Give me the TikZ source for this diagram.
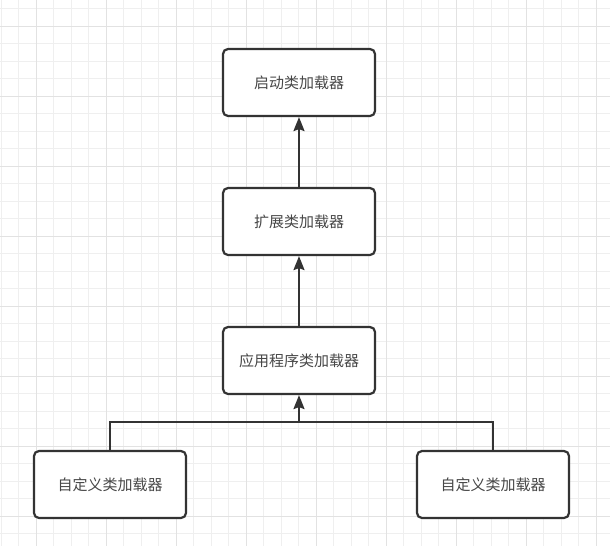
\documentclass[tikz,border=0pt]{standalone}
\usepackage{fontspec}
\newfontfamily\cjk{Noto Sans CJK SC}
\usetikzlibrary{arrows.meta}
\definecolor{minorgrid}{HTML}{EFEFEF}
\definecolor{majorgrid}{HTML}{E2E2E2}
\definecolor{ink}{HTML}{333333}
\tikzset{
  box/.style={draw=ink, line width=2.2pt, rounded corners=5pt, fill=white,
    minimum width=152pt, minimum height=67pt, inner sep=0pt,
    text=ink!90, font=\cjk\fontsize{15}{18}\selectfont},
  conn/.style={draw=ink, line width=2pt},
  arr/.style={conn, -{Stealth[width=11pt,length=14pt,inset=2pt]}},
}
\begin{document}
\begin{tikzpicture}[x=1pt,y=-1pt]
\useasboundingbox (0,0) rectangle (610,546);
\fill[white] (0,0) rectangle (610,546);
% grid
\foreach \i in {0,...,35} \draw[minorgrid, line width=1pt] (1+17.5*\i,0) -- (1+17.5*\i,546);
\foreach \i in {0,...,31} \draw[minorgrid, line width=1pt] (0,8.5+17.5*\i) -- (610,8.5+17.5*\i);
\foreach \i in {0,...,8} \draw[majorgrid, line width=1pt] (36+70*\i,0) -- (36+70*\i,546);
\foreach \i in {0,...,7} \draw[majorgrid, line width=1pt] (0,26+70*\i) -- (610,26+70*\i);
% nodes
\node[box] (a) at (299,82.5) {启动类加载器};
\node[box] (b) at (299,221.5) {扩展类加载器};
\node[box] (c) at (299,360.5) {应用程序类加载器};
\node[box] (d) at (110,484.5) {自定义类加载器};
\node[box] (e) at (493,484.5) {自定义类加载器};
\coordinate (j) at (299,422);
% connectors
\draw[arr] (b.north) -- (a.south);
\draw[arr] (c.north) -- (b.south);
\draw[conn] (d.north) |- (j);
\draw[conn] (e.north) |- (j);
\draw[arr] (j) -- (c.south);
\end{tikzpicture}
\end{document}
